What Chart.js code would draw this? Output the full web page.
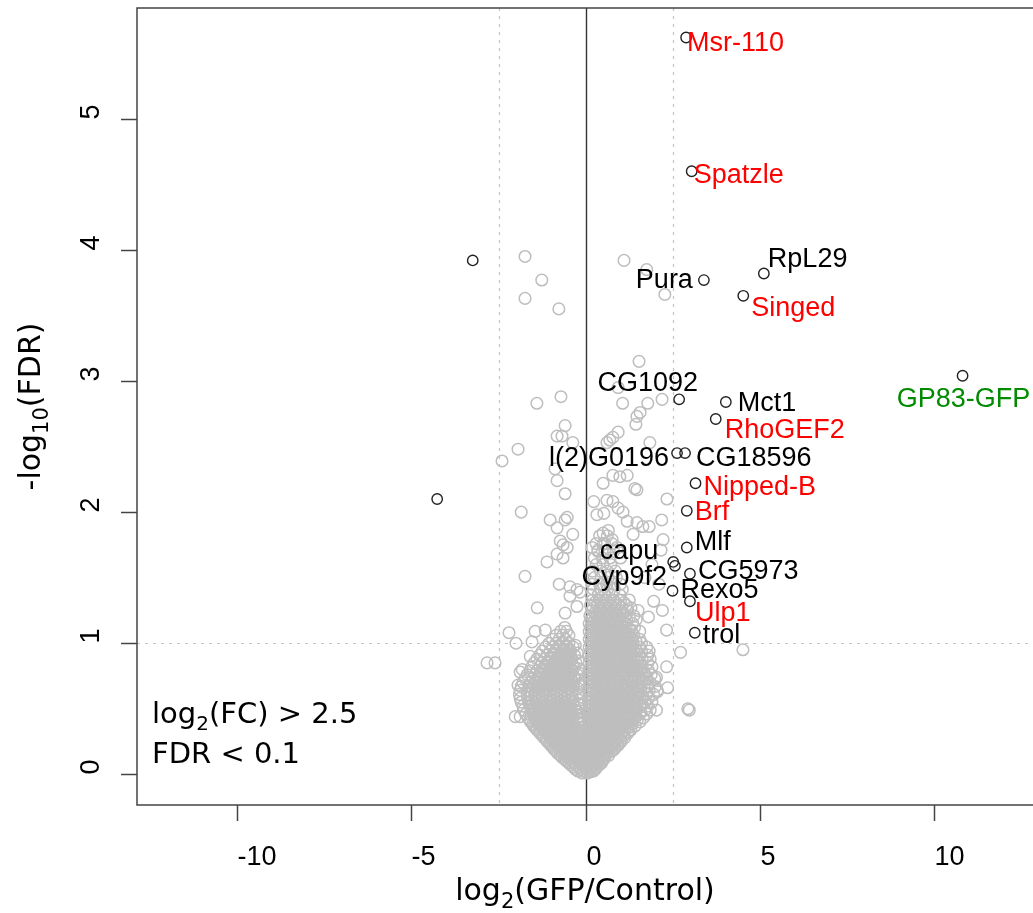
<!DOCTYPE html>
<html lang="en">
<head>
  <meta charset="UTF-8" />
  <title>Volcano plot - GFP vs Control</title>
  <script src="https://cdn.jsdelivr.net/npm/chart.js"></script>
  <style>
    html, body { margin: 0; padding: 0; background: #fff; overflow: hidden; }
    #wrap { width: 1033px; height: 913px; }
  </style>
</head>
<body>
  <div id="wrap"><canvas id="volcano"></canvas></div>

  <script>
    // labelled hits (black circles)
    const geneNames = ['Msr-110', 'Spatzle', 'RpL29', 'Pura', 'Singed', 'GP83-GFP', 'CG1092', 'Mct1',
      'RhoGEF2', 'l(2)G0196', 'CG18596', 'Nipped-B', 'Brf', 'Mlf', 'capu', 'Cyp9f2',
      'CG5973', 'Rexo5', 'Ulp1', 'trol'];
    const geneFC = [2.88, 3.04, 5.11, 3.39, 4.52, 10.81, 2.68, 4.02,
      3.73, 2.62, 2.85, 3.15, 2.90, 2.90, 2.51, 2.56,
      2.99, 2.49, 2.99, 3.13];
    const geneFDR = [5.62, 4.60, 3.82, 3.77, 3.65, 3.04, 2.86, 2.84,
      2.71, 2.45, 2.45, 2.22, 2.01, 1.73, 1.62, 1.59,
      1.53, 1.40, 1.32, 1.08];
    const geneGroup = ['red', 'red', 'black', 'black', 'red', 'green', 'black', 'black',
      'red', 'black', 'black', 'red', 'red', 'black', 'black', 'black',
      'black', 'black', 'red', 'black'];

    // significant but unlabelled
    const otherFC = [-3.24, -4.26];
    const otherFDR = [3.92, 2.10];

    // everything else (grey): scattered genes first
    const greySparse = [
      [-1.74,3.95],[-1.26,3.77],[-1.74,3.63],[-0.77,3.55],[-1.40,2.83],[-0.71,2.88],[-0.59,2.66],[-0.82,2.58],
      [-0.68,2.58],[-0.37,2.53],[-1.94,2.48],[-2.40,2.39],[-0.88,2.33],[-0.82,2.24],[-0.59,2.14],[-1.85,2.00],
      [-1.02,1.94],[-0.59,1.94],[-0.53,1.96],[-0.82,1.88],[-0.37,1.83],[-0.73,1.78],[-0.65,1.75],[-0.53,1.73],
      [-0.82,1.68],[-0.65,1.65],[-1.11,1.62],[-1.74,1.51],[-0.76,1.45],[-0.45,1.43],[-0.25,1.41],[-0.16,1.39],
      [-0.45,1.36],[-1.39,1.27],[-2.20,1.08],[-2.00,1.00],[-1.54,1.01],[-1.45,1.09],[-1.16,1.10],[-0.59,1.23],
      [-0.25,1.28],[-2.83,0.85],[-2.60,0.85],[-1.82,0.80],[-1.88,0.78],[-1.94,0.68],[-1.59,0.90],[-1.88,0.44],
      [-2.02,0.44],
      [1.10,3.92],[1.75,3.85],[2.27,3.66],[1.53,3.15],[1.06,2.83],[1.78,2.83],[2.19,2.86],[0.93,2.95],
      [1.56,2.76],[1.47,2.73],[1.44,2.67],[0.93,2.61],[0.78,2.57],[0.69,2.55],[0.61,2.53],[1.84,2.53],
      [1.41,2.18],[0.23,2.08],[0.50,2.22],[0.61,2.09],[0.78,2.08],[0.93,2.03],[1.07,2.00],[0.32,1.98],
      [0.52,1.99],[0.78,2.28],[0.98,2.27],[1.19,2.28],[1.47,2.17],[2.33,2.10],[2.18,1.94],[1.82,1.89],
      [1.64,1.89],[1.47,1.92],[1.19,1.93],[1.36,1.83],[0.65,1.86],[0.50,1.84],[0.76,1.79],[0.55,1.76],
      [0.18,1.73],[0.35,1.71],[0.90,1.73],[0.98,1.69],[2.22,1.79],[2.16,1.71],[1.90,1.60],[2.10,1.45],
      [1.70,1.50],[2.20,1.25],[1.95,1.32],[1.80,1.20],[2.32,1.10],[2.32,0.82],[2.35,0.66],[2.03,0.74],
      [2.06,0.63],[2.03,0.49],[2.72,0.93],[4.51,0.95],[2.93,0.50],[2.97,0.49]
    ];

    // the dense V near the origin, bottom to top
    const greyCore = [
      [-0.10,0.01],[0.05,0.01],[0.15,0.02],
      [-0.30,0.04],[-0.15,0.04],[0.00,0.04],[0.14,0.04],[0.28,0.04],
      [-0.42,0.07],[-0.26,0.07],[-0.10,0.07],[0.06,0.07],[0.22,0.07],[0.38,0.07],
      [-0.55,0.10],[-0.38,0.10],[-0.20,0.10],[-0.03,0.10],[0.13,0.10],[0.30,0.10],[0.47,0.10],
      [-0.68,0.13],[-0.50,0.13],[-0.33,0.13],[-0.16,0.13],[0.02,0.13],[0.20,0.13],[0.37,0.13],[0.55,0.13],
      [-0.80,0.16],[-0.62,0.16],[-0.45,0.16],[-0.27,0.16],[-0.10,0.16],[0.09,0.16],[0.27,0.16],[0.44,0.16],[0.62,0.16],
      [-0.90,0.19],[-0.72,0.19],[-0.55,0.19],[-0.38,0.19],[-0.20,0.19],[-0.04,0.19],[0.15,0.19],[0.33,0.19],[0.50,0.19],[0.68,0.19],[0.82,0.19],
      [-1.00,0.22],[-0.83,0.22],[-0.65,0.22],[-0.48,0.22],[-0.30,0.22],[-0.12,0.22],[0.07,0.22],[0.24,0.22],[0.42,0.22],[0.60,0.22],[0.77,0.22],[0.93,0.22],
      [-1.10,0.25],[-0.92,0.25],[-0.75,0.25],[-0.57,0.25],[-0.40,0.25],[-0.22,0.25],[-0.05,0.25],[0.14,0.25],[0.32,0.25],[0.50,0.25],[0.68,0.25],[0.86,0.25],[1.02,0.25],
      [-1.20,0.28],[-1.02,0.28],[-0.85,0.28],[-0.66,0.28],[-0.48,0.28],[-0.30,0.28],[-0.12,0.28],[0.05,0.28],[0.22,0.28],[0.40,0.28],[0.58,0.28],[0.76,0.28],[0.95,0.28],[1.12,0.28],
      [-1.30,0.31],[-1.10,0.31],[-0.92,0.31],[-0.74,0.31],[-0.56,0.31],[-0.38,0.31],[-0.20,0.31],[0.10,0.31],[0.28,0.31],[0.46,0.31],[0.65,0.31],[0.83,0.31],[1.02,0.31],[1.20,0.31],
      [-1.40,0.34],[-1.20,0.34],[-1.02,0.34],[-0.82,0.34],[-0.64,0.34],[-0.45,0.34],[-0.26,0.34],[0.04,0.34],[0.20,0.34],[0.38,0.34],[0.56,0.34],[0.75,0.34],[0.93,0.34],[1.12,0.34],[1.30,0.34],
      [-1.50,0.37],[-1.30,0.37],[-1.10,0.37],[-0.90,0.37],[-0.70,0.37],[-0.52,0.37],[-0.32,0.37],[0.08,0.37],[0.26,0.37],[0.45,0.37],[0.63,0.37],[0.82,0.37],[1.00,0.37],[1.20,0.37],[1.42,0.37],
      [-1.58,0.40],[-1.38,0.40],[-1.18,0.40],[-0.98,0.40],[-0.78,0.40],[-0.58,0.40],[-0.38,0.40],[-0.18,0.40],[0.12,0.40],[0.30,0.40],[0.50,0.40],[0.70,0.40],[0.90,0.40],[1.10,0.40],[1.30,0.40],[1.55,0.40],
      [-1.65,0.43],[-1.45,0.43],[-1.24,0.43],[-1.04,0.43],[-0.84,0.43],[-0.64,0.43],[-0.44,0.43],[-0.22,0.43],[0.06,0.43],[0.22,0.43],[0.40,0.43],[0.60,0.43],[0.80,0.43],[1.00,0.43],[1.20,0.43],[1.42,0.43],[1.65,0.43],
      [-1.72,0.46],[-1.50,0.46],[-1.30,0.46],[-1.10,0.46],[-0.90,0.46],[-0.68,0.46],[-0.48,0.46],[-0.26,0.46],[0.10,0.46],[0.28,0.46],[0.48,0.46],[0.68,0.46],[0.88,0.46],[1.08,0.46],[1.30,0.46],[1.55,0.46],[1.75,0.46],
      [-1.78,0.49],[-1.55,0.49],[-1.35,0.49],[-1.15,0.49],[-0.95,0.49],[-0.72,0.49],[-0.50,0.49],[-0.30,0.49],[0.08,0.49],[0.24,0.49],[0.42,0.49],[0.62,0.49],[0.82,0.49],[1.02,0.49],[1.22,0.49],[1.45,0.49],[1.70,0.49],[1.85,0.49],
      [-1.80,0.52],[-1.60,0.52],[-1.40,0.52],[-1.20,0.52],[-0.98,0.52],[-0.76,0.52],[-0.54,0.52],[-0.32,0.52],[0.12,0.52],[0.30,0.52],[0.50,0.52],[0.70,0.52],[0.90,0.52],[1.10,0.52],[1.32,0.52],[1.55,0.52],[1.78,0.52],
      [-1.85,0.55],[-1.63,0.55],[-1.43,0.55],[-1.22,0.55],[-1.00,0.55],[-0.80,0.55],[-0.58,0.55],[-0.36,0.55],[0.08,0.55],[0.26,0.55],[0.45,0.55],[0.64,0.55],[0.84,0.55],[1.04,0.55],[1.25,0.55],[1.48,0.55],[1.70,0.55],[1.90,0.55],
      [-1.88,0.58],[-1.66,0.58],[-1.45,0.58],[-1.24,0.58],[-1.02,0.58],[-0.82,0.58],[-0.60,0.58],[-0.38,0.58],[0.12,0.58],[0.32,0.58],[0.52,0.58],[0.72,0.58],[0.92,0.58],[1.12,0.58],[1.34,0.58],[1.56,0.58],[1.80,0.58],
      [-1.90,0.61],[-1.68,0.61],[-1.46,0.61],[-1.25,0.61],[-1.04,0.61],[-0.84,0.61],[-0.62,0.61],[-0.40,0.61],[-0.20,0.61],[0.10,0.61],[0.28,0.61],[0.48,0.61],[0.68,0.61],[0.88,0.61],[1.08,0.61],[1.30,0.61],[1.52,0.61],[1.75,0.61],[1.95,0.61],
      [-1.88,0.64],[-1.66,0.64],[-1.44,0.64],[-1.22,0.64],[-1.02,0.64],[-0.82,0.64],[-0.60,0.64],[-0.38,0.64],[0.14,0.64],[0.34,0.64],[0.54,0.64],[0.74,0.64],[0.94,0.64],[1.14,0.64],[1.36,0.64],[1.58,0.64],[1.82,0.64],[2.05,0.64],
      [-1.85,0.67],[-1.62,0.67],[-1.40,0.67],[-1.20,0.67],[-1.00,0.67],[-0.80,0.67],[-0.58,0.67],[-0.36,0.67],[-0.16,0.67],[0.10,0.67],[0.30,0.67],[0.50,0.67],[0.70,0.67],[0.90,0.67],[1.10,0.67],[1.32,0.67],[1.55,0.67],[1.78,0.67],[2.00,0.67],
      [-1.80,0.70],[-1.58,0.70],[-1.36,0.70],[-1.16,0.70],[-0.96,0.70],[-0.76,0.70],[-0.55,0.70],[-0.34,0.70],[0.14,0.70],[0.34,0.70],[0.54,0.70],[0.74,0.70],[0.94,0.70],[1.14,0.70],[1.36,0.70],[1.60,0.70],[1.85,0.70],
      [-1.74,0.73],[-1.52,0.73],[-1.30,0.73],[-1.10,0.73],[-0.90,0.73],[-0.70,0.73],[-0.50,0.73],[-0.30,0.73],[0.10,0.73],[0.30,0.73],[0.50,0.73],[0.70,0.73],[0.90,0.73],[1.10,0.73],[1.30,0.73],[1.52,0.73],[1.75,0.73],[1.98,0.73],
      [-1.68,0.76],[-1.46,0.76],[-1.24,0.76],[-1.04,0.76],[-0.84,0.76],[-0.64,0.76],[-0.44,0.76],[-0.24,0.76],[0.14,0.76],[0.34,0.76],[0.54,0.76],[0.74,0.76],[0.94,0.76],[1.16,0.76],[1.38,0.76],[1.62,0.76],[1.88,0.76],
      [-1.60,0.79],[-1.40,0.79],[-1.18,0.79],[-0.98,0.79],[-0.78,0.79],[-0.58,0.79],[-0.38,0.79],[0.10,0.79],[0.30,0.79],[0.50,0.79],[0.70,0.79],[0.90,0.79],[1.10,0.79],[1.32,0.79],[1.55,0.79],[1.80,0.79],
      [-1.55,0.82],[-1.32,0.82],[-1.12,0.82],[-0.92,0.82],[-0.72,0.82],[-0.52,0.82],[-0.32,0.82],[0.14,0.82],[0.34,0.82],[0.54,0.82],[0.74,0.82],[0.95,0.82],[1.16,0.82],[1.38,0.82],[1.62,0.82],[1.90,0.82],
      [-1.48,0.85],[-1.26,0.85],[-1.06,0.85],[-0.86,0.85],[-0.66,0.85],[-0.46,0.85],[-0.28,0.85],[0.10,0.85],[0.30,0.85],[0.50,0.85],[0.70,0.85],[0.90,0.85],[1.10,0.85],[1.32,0.85],[1.55,0.85],[1.78,0.85],
      [-1.40,0.88],[-1.18,0.88],[-0.98,0.88],[-0.78,0.88],[-0.58,0.88],[-0.40,0.88],[0.14,0.88],[0.34,0.88],[0.54,0.88],[0.74,0.88],[0.95,0.88],[1.15,0.88],[1.38,0.88],[1.62,0.88],[1.85,0.88],
      [-1.32,0.91],[-1.10,0.91],[-0.90,0.91],[-0.70,0.91],[-0.50,0.91],[-0.32,0.91],[0.10,0.91],[0.30,0.91],[0.50,0.91],[0.70,0.91],[0.90,0.91],[1.10,0.91],[1.32,0.91],[1.55,0.91],[1.78,0.91],
      [-1.24,0.94],[-1.02,0.94],[-0.82,0.94],[-0.62,0.94],[-0.44,0.94],[0.14,0.94],[0.34,0.94],[0.54,0.94],[0.74,0.94],[0.94,0.94],[1.15,0.94],[1.38,0.94],[1.60,0.94],[1.82,0.94],
      [-1.15,0.97],[-0.94,0.97],[-0.74,0.97],[-0.55,0.97],[-0.36,0.97],[0.10,0.97],[0.30,0.97],[0.50,0.97],[0.70,0.97],[0.90,0.97],[1.10,0.97],[1.32,0.97],[1.55,0.97],[1.75,0.97],
      [-1.05,1.00],[-0.85,1.00],[-0.66,1.00],[-0.48,1.00],[0.14,1.00],[0.34,1.00],[0.54,1.00],[0.74,1.00],[0.94,1.00],[1.14,1.00],[1.36,1.00],[1.60,1.00],
      [-0.95,1.03],[-0.76,1.03],[-0.58,1.03],[0.10,1.03],[0.30,1.03],[0.50,1.03],[0.70,1.03],[0.90,1.03],[1.10,1.03],[1.32,1.03],[1.55,1.03],
      [-0.85,1.06],[-0.66,1.06],[-0.48,1.06],[0.14,1.06],[0.34,1.06],[0.54,1.06],[0.74,1.06],[0.94,1.06],[1.14,1.06],[1.38,1.06],
      [-0.72,1.09],[-0.55,1.09],[0.10,1.09],[0.30,1.09],[0.50,1.09],[0.70,1.09],[0.90,1.09],[1.10,1.09],[1.32,1.09],[1.55,1.09],
      [-0.60,1.12],[0.14,1.12],[0.34,1.12],[0.54,1.12],[0.74,1.12],[0.94,1.12],[1.16,1.12],[1.40,1.12],
      [0.10,1.15],[0.30,1.15],[0.50,1.15],[0.70,1.15],[0.90,1.15],[1.12,1.15],[1.35,1.15],
      [0.16,1.18],[0.36,1.18],[0.56,1.18],[0.76,1.18],[0.96,1.18],[1.18,1.18],[1.45,1.18],
      [0.12,1.21],[0.32,1.21],[0.52,1.21],[0.72,1.21],[0.92,1.21],[1.14,1.21],[1.38,1.21],
      [0.18,1.25],[0.38,1.25],[0.58,1.25],[0.78,1.25],[0.98,1.25],[1.20,1.25],[1.50,1.25],
      [0.14,1.29],[0.34,1.29],[0.54,1.29],[0.74,1.29],[0.94,1.29],[1.16,1.29],
      [0.20,1.33],[0.40,1.33],[0.60,1.33],[0.80,1.33],[1.00,1.33],[1.25,1.33],
      [0.16,1.37],[0.36,1.37],[0.56,1.37],[0.76,1.37],[0.98,1.37],
      [0.22,1.41],[0.42,1.41],[0.62,1.41],[0.82,1.41],[1.05,1.41],
      [0.18,1.45],[0.40,1.45],[0.60,1.45],[0.80,1.45],[1.00,1.45],
      [0.25,1.50],[0.45,1.50],[0.65,1.50],[0.88,1.50],
      [0.20,1.55],[0.42,1.55],[0.62,1.55],[0.85,1.55],
      [0.30,1.60],[0.50,1.60],[0.72,1.60],
      [0.25,1.65],[0.48,1.65],[0.70,1.65],[1.00,1.65],
      [0.35,1.70],[0.55,1.70],[0.80,1.70],
      [0.30,1.76],[0.50,1.76],[0.75,1.76],
      [0.40,1.82],[0.62,1.82]
    ];

    // extra genes packed between the rows above
    const greyFill = [
      [-0.22,0.025],[-0.07,0.025],[0.08,0.025],[0.22,0.025],
      [-0.35,0.055],[-0.18,0.055],[-0.02,0.055],[0.12,0.055],[0.30,0.055],
      [-0.48,0.085],[-0.32,0.085],[-0.15,0.085],[0.00,0.085],[0.16,0.085],[0.32,0.085],[0.45,0.085],
      [-0.60,0.115],[-0.45,0.115],[-0.28,0.115],[-0.10,0.115],[0.06,0.115],[0.24,0.115],[0.40,0.115],[0.52,0.115],
      [-0.72,0.145],[-0.56,0.145],[-0.38,0.145],[-0.21,0.145],[-0.04,0.145],[0.14,0.145],[0.32,0.145],[0.50,0.145],[0.66,0.145],
      [-0.84,0.175],[-0.66,0.175],[-0.50,0.175],[-0.32,0.175],[-0.14,0.175],[0.04,0.175],[0.22,0.175],[0.40,0.175],[0.58,0.175],[0.74,0.175],
      [-0.95,0.205],[-0.78,0.205],[-0.60,0.205],[-0.42,0.205],[-0.26,0.205],[-0.08,0.205],[0.10,0.205],[0.28,0.205],[0.46,0.205],[0.64,0.205],[0.82,0.205],
      [-1.04,0.235],[-0.86,0.235],[-0.70,0.235],[-0.52,0.235],[-0.35,0.235],[-0.17,0.235],[0.02,0.235],[0.20,0.235],[0.38,0.235],[0.56,0.235],[0.74,0.235],[0.92,0.235],
      [-1.14,0.265],[-0.97,0.265],[-0.80,0.265],[-0.62,0.265],[-0.44,0.265],[-0.26,0.265],[-0.08,0.265],[0.10,0.265],[0.28,0.265],[0.46,0.265],[0.64,0.265],[0.82,0.265],[1.00,0.265],
      [-1.24,0.295],[-1.06,0.295],[-0.88,0.295],[-0.70,0.295],[-0.52,0.295],[-0.34,0.295],[-0.16,0.295],[0.02,0.295],[0.18,0.295],[0.36,0.295],[0.54,0.295],[0.72,0.295],[0.90,0.295],[1.08,0.295],
      [-1.34,0.325],[-1.16,0.325],[-0.98,0.325],[-0.80,0.325],[-0.60,0.325],[-0.42,0.325],[-0.24,0.325],[-0.06,0.325],[0.14,0.325],[0.32,0.325],[0.50,0.325],[0.70,0.325],[0.88,0.325],[1.06,0.325],[1.24,0.325],
      [-1.44,0.355],[-1.26,0.355],[-1.06,0.355],[-0.86,0.355],[-0.68,0.355],[-0.50,0.355],[-0.30,0.355],[-0.10,0.355],[0.12,0.355],[0.30,0.355],[0.48,0.355],[0.66,0.355],[0.86,0.355],[1.04,0.355],[1.22,0.355],
      [-1.52,0.385],[-1.34,0.385],[-1.14,0.385],[-0.94,0.385],[-0.74,0.385],[-0.56,0.385],[-0.36,0.385],[-0.16,0.385],[0.16,0.385],[0.36,0.385],[0.54,0.385],[0.74,0.385],[0.94,0.385],[1.14,0.385],[1.34,0.385],
      [-1.60,0.415],[-1.40,0.415],[-1.20,0.415],[-1.00,0.415],[-0.80,0.415],[-0.60,0.415],[-0.40,0.415],[-0.20,0.415],[0.10,0.415],[0.28,0.415],[0.46,0.415],[0.66,0.415],[0.86,0.415],[1.06,0.415],[1.26,0.415],[1.48,0.415],
      [-1.40,0.445],[-1.20,0.445],[-1.00,0.445],[-0.80,0.445],[-0.60,0.445],[-0.38,0.445],[-0.18,0.445],[0.18,0.445],[0.38,0.445],[0.58,0.445],[0.78,0.445],[0.98,0.445],[1.20,0.445],[1.40,0.445],
      [-1.45,0.475],[-1.25,0.475],[-1.05,0.475],[-0.85,0.475],[-0.62,0.475],[-0.40,0.475],[-0.20,0.475],[0.16,0.475],[0.34,0.475],[0.54,0.475],[0.74,0.475],[0.94,0.475],[1.14,0.475],[1.36,0.475],[1.58,0.475],
      [-1.50,0.505],[-1.30,0.505],[-1.10,0.505],[-0.88,0.505],[-0.66,0.505],[-0.44,0.505],[-0.20,0.505],[0.20,0.505],[0.40,0.505],[0.60,0.505],[0.80,0.505],[1.00,0.505],[1.20,0.505],[1.42,0.505],
      [-1.52,0.535],[-1.32,0.535],[-1.12,0.535],[-0.90,0.535],[-0.70,0.535],[-0.46,0.535],[-0.20,0.535],[0.18,0.535],[0.36,0.535],[0.56,0.535],[0.76,0.535],[0.96,0.535],[1.16,0.535],[1.38,0.535],[1.62,0.535],
      [-1.54,0.565],[-1.34,0.565],[-1.12,0.565],[-0.92,0.565],[-0.70,0.565],[-0.48,0.565],[-0.18,0.565],[0.20,0.565],[0.40,0.565],[0.60,0.565],[0.80,0.565],[1.00,0.565],[1.20,0.565],[1.42,0.565],
      [-1.56,0.595],[-1.36,0.595],[-1.14,0.595],[-0.94,0.595],[-0.72,0.595],[-0.50,0.595],[0.18,0.595],[0.38,0.595],[0.58,0.595],[0.78,0.595],[0.98,0.595],[1.18,0.595],[1.40,0.595],[1.64,0.595],
      [-1.56,0.625],[-1.34,0.625],[-1.14,0.625],[-0.92,0.625],[-0.72,0.625],[-0.50,0.625],[-0.20,0.625],[0.22,0.625],[0.42,0.625],[0.62,0.625],[0.82,0.625],[1.02,0.625],[1.24,0.625],[1.46,0.625],
      [-1.52,0.655],[-1.30,0.655],[-1.10,0.655],[-0.90,0.655],[-0.70,0.655],[-0.48,0.655],[-0.22,0.655],[0.20,0.655],[0.40,0.655],[0.60,0.655],[0.80,0.655],[1.00,0.655],[1.20,0.655],[1.44,0.655],[1.68,0.655],
      [-1.48,0.685],[-1.26,0.685],[-1.06,0.685],[-0.86,0.685],[-0.66,0.685],[-0.44,0.685],[-0.18,0.685],[0.24,0.685],[0.44,0.685],[0.64,0.685],[0.84,0.685],[1.04,0.685],[1.24,0.685],[1.48,0.685],
      [-1.42,0.715],[-1.20,0.715],[-1.00,0.715],[-0.80,0.715],[-0.60,0.715],[-0.40,0.715],[-0.18,0.715],[0.20,0.715],[0.40,0.715],[0.60,0.715],[0.80,0.715],[1.00,0.715],[1.20,0.715],[1.42,0.715],[1.66,0.715],
      [-1.36,0.745],[-1.14,0.745],[-0.94,0.745],[-0.74,0.745],[-0.54,0.745],[-0.34,0.745],[0.24,0.745],[0.44,0.745],[0.64,0.745],[0.84,0.745],[1.04,0.745],[1.26,0.745],[1.50,0.745],
      [-1.30,0.775],[-1.08,0.775],[-0.88,0.775],[-0.68,0.775],[-0.48,0.775],[-0.20,0.775],[0.20,0.775],[0.40,0.775],[0.60,0.775],[0.80,0.775],[1.00,0.775],[1.20,0.775],[1.44,0.775],[1.68,0.775],
      [-1.22,0.805],[-1.02,0.805],[-0.82,0.805],[-0.62,0.805],[-0.42,0.805],[-0.20,0.805],[0.24,0.805],[0.44,0.805],[0.64,0.805],[0.84,0.805],[1.05,0.805],[1.26,0.805],[1.50,0.805],
      [-1.16,0.835],[-0.96,0.835],[-0.76,0.835],[-0.56,0.835],[-0.38,0.835],[0.20,0.835],[0.40,0.835],[0.60,0.835],[0.80,0.835],[1.00,0.835],[1.20,0.835],[1.44,0.835],
      [-1.08,0.865],[-0.88,0.865],[-0.68,0.865],[-0.50,0.865],[-0.22,0.865],[0.24,0.865],[0.44,0.865],[0.64,0.865],[0.84,0.865],[1.04,0.865],[1.26,0.865],[1.50,0.865],
      [-1.00,0.895],[-0.80,0.895],[-0.60,0.895],[-0.42,0.895],[0.20,0.895],[0.40,0.895],[0.60,0.895],[0.80,0.895],[1.00,0.895],[1.20,0.895],[1.44,0.895],
      [-0.92,0.925],[-0.72,0.925],[-0.54,0.925],[-0.24,0.925],[0.24,0.925],[0.44,0.925],[0.64,0.925],[0.84,0.925],[1.04,0.925],[1.26,0.925],
      [-0.84,0.955],[-0.64,0.955],[-0.46,0.955],[0.20,0.955],[0.40,0.955],[0.60,0.955],[0.80,0.955],[1.00,0.955],[1.20,0.955],[1.44,0.955],
      [-0.76,0.985],[-0.56,0.985],[-0.30,0.985],[0.24,0.985],[0.44,0.985],[0.64,0.985],[0.84,0.985],[1.04,0.985],[1.26,0.985],
      [0.20,1.015],[0.40,1.015],[0.60,1.015],[0.80,1.015],[1.00,1.015],[1.20,1.015],[1.44,1.015],
      [0.24,1.045],[0.44,1.045],[0.64,1.045],[0.84,1.045],[1.04,1.045],[1.26,1.045],
      [0.20,1.075],[0.40,1.075],[0.60,1.075],[0.80,1.075],[1.00,1.075],[1.20,1.075],
      [0.24,1.105],[0.44,1.105],[0.64,1.105],[0.84,1.105],[1.04,1.105],[1.26,1.105],
      [0.20,1.135],[0.40,1.135],[0.60,1.135],[0.80,1.135],[1.00,1.135],
      [0.24,1.165],[0.44,1.165],[0.64,1.165],[0.84,1.165],[1.04,1.165],
      [0.20,1.195],[0.40,1.195],[0.60,1.195],[0.80,1.195],[1.00,1.195],[1.25,1.195],
      [0.26,1.23],[0.46,1.23],[0.66,1.23],[0.86,1.23],[1.06,1.23],
      [0.22,1.27],[0.42,1.27],[0.62,1.27],[0.82,1.27],[1.04,1.27],[1.30,1.27],
      [0.26,1.31],[0.46,1.31],[0.66,1.31],[0.86,1.31],[1.10,1.31]
    ];

    const xTicks = [-10, -5, 0, 5, 10];
    const yTicks = [0, 1, 2, 3, 4, 5];
    const fcCut = 2.5;
    const fdrCut = 1;

    // where each gene name sits relative to its circle: [dx, dy(baseline), align]
    const labelPlace = [
      [1, 14, 'left'], [2, 12, 'left'], [4, -6, 'left'], [-11, 8, 'right'], [8, 20, 'left'],
      [1, 31, 'center'], [19, -8, 'right'], [12, 9, 'left'], [9, 19, 'left'], [-8, 13, 'right'],
      [11, 13, 'left'], [8, 12, 'left'], [8, 9, 'left'], [8, 2, 'left'], [-15, -3, 'right'],
      [-8, 19, 'right'], [8, 5, 'left'], [8, 7, 'left'], [5, 20, 'left'], [8, 10, 'left']
    ];
    const groupColors = { red: '#ff0000', green: '#008b00', black: '#000000' };

    const titleFont = '"DejaVu Sans", Verdana, sans-serif';
    const plainFont = '"Liberation Sans", Arial, sans-serif';

    // text with subscripts, parts = [[text, isSub], ...]
    function drawRich(ctx, parts, x, y, size, align) {
      const subSize = Math.round(size * 0.7);
      const widths = parts.map(p => {
        ctx.font = (p[1] ? subSize : size) + 'px ' + titleFont;
        return ctx.measureText(p[0]).width;
      });
      const total = widths.reduce((s, w) => s + w, 0);
      let cx = align === 'center' ? x - total / 2 : x;
      ctx.textAlign = 'left';
      ctx.textBaseline = 'alphabetic';
      parts.forEach((p, i) => {
        ctx.font = (p[1] ? subSize : size) + 'px ' + titleFont;
        ctx.fillText(p[0], cx, y + (p[1] ? size * 0.25 : 0));
        cx += widths[i];
      });
    }

    function seg(ctx, x1, y1, x2, y2) {
      ctx.beginPath();
      ctx.moveTo(x1, y1);
      ctx.lineTo(x2, y2);
      ctx.stroke();
    }

    const volcanoDecor = {
      id: 'volcanoDecor',
      beforeDatasetsDraw(chart) {
        const { ctx, chartArea: a, scales: { x, y } } = chart;
        ctx.save();
        ctx.strokeStyle = '#c4c4c4';
        ctx.lineWidth = 1.2;
        ctx.setLineDash([3, 5]);
        [-fcCut, fcCut].forEach(v => {
          const px = Math.round(x.getPixelForValue(v)) + 0.5;
          seg(ctx, px, a.top, px, a.bottom);
        });
        const py = Math.round(y.getPixelForValue(fdrCut)) + 0.5;
        seg(ctx, a.left, py, a.right, py);
        ctx.setLineDash([]);
        ctx.strokeStyle = '#333';
        ctx.lineWidth = 1.4;
        const x0 = Math.round(x.getPixelForValue(0)) + 0.5;
        seg(ctx, x0, a.top, x0, a.bottom);
        ctx.restore();
      },
      afterDatasetsDraw(chart) {
        const { ctx, scales: { x, y } } = chart;
        ctx.save();
        ctx.font = '27px ' + plainFont;
        ctx.textBaseline = 'alphabetic';
        geneNames.forEach((name, i) => {
          const px = x.getPixelForValue(geneFC[i]);
          const py = y.getPixelForValue(geneFDR[i]);
          const p = labelPlace[i];
          ctx.fillStyle = groupColors[geneGroup[i]];
          ctx.textAlign = p[2];
          ctx.fillText(name, px + p[0], py + p[1]);
        });
        ctx.restore();
      },
      afterDraw(chart) {
        const { ctx, chartArea: a, scales: { x, y } } = chart;
        ctx.save();
        // frame (right side runs off the canvas)
        ctx.strokeStyle = '#444';
        ctx.lineWidth = 1.5;
        ctx.beginPath();
        ctx.moveTo(a.right + 2, a.top);
        ctx.lineTo(a.left, a.top);
        ctx.lineTo(a.left, a.bottom);
        ctx.lineTo(a.right + 2, a.bottom);
        ctx.stroke();

        // x ticks
        ctx.fillStyle = '#000';
        ctx.font = '27px ' + plainFont;
        ctx.textAlign = 'left';
        ctx.textBaseline = 'alphabetic';
        xTicks.forEach(v => {
          const px = Math.round(x.getPixelForValue(v)) + 0.5;
          seg(ctx, px, a.bottom, px, a.bottom + 16);
          ctx.fillText(String(v), px, a.bottom + 60);
        });
        // y ticks, rotated like R's default
        yTicks.forEach(v => {
          const py = Math.round(y.getPixelForValue(v)) + 0.5;
          seg(ctx, a.left, py, a.left - 16, py);
          ctx.save();
          ctx.translate(a.left - 38, py);
          ctx.rotate(-Math.PI / 2);
          ctx.fillText(String(v), 0, 0);
          ctx.restore();
        });

        // axis titles
        drawRich(ctx, [['log', false], ['2', true], ['(GFP/Control)', false]],
          (a.left + a.right) / 2, a.bottom + 95, 30, 'center');
        ctx.save();
        ctx.translate(40, (a.top + a.bottom) / 2);
        ctx.rotate(-Math.PI / 2);
        drawRich(ctx, [['-log', false], ['10', true], ['(FDR)', false]], 0, 0, 30, 'center');
        ctx.restore();

        // thresholds note
        drawRich(ctx, [['log', false], ['2', true], ['(FC) > 2.5', false]], a.left + 15, 723, 29, 'left');
        drawRich(ctx, [['FDR < 0.1', false]], a.left + 15, 763, 29, 'left');
        ctx.restore();
      }
    };

    const greyAll = greySparse.concat(greyCore, greyFill);

    const ctx = document.getElementById('volcano').getContext('2d');
    new Chart(ctx, {
      type: 'scatter',
      data: {
        datasets: [
          {
            label: 'not significant',
            data: greyAll.map(p => ({ x: p[0], y: p[1] })),
            pointStyle: 'circle',
            pointRadius: 5.8,
            backgroundColor: 'rgba(0,0,0,0)',
            borderColor: '#bebebe',
            borderWidth: 1.5
          },
          {
            label: 'significant',
            data: otherFC.map((v, i) => ({ x: v, y: otherFDR[i] }))
              .concat(geneFC.map((v, i) => ({ x: v, y: geneFDR[i] }))),
            pointStyle: 'circle',
            pointRadius: 5.2,
            backgroundColor: 'rgba(0,0,0,0)',
            borderColor: '#222',
            borderWidth: 1.4
          }
        ]
      },
      options: {
        responsive: true,
        maintainAspectRatio: false,
        animation: false,
        events: [],
        layout: { autoPadding: false, padding: { left: 137, top: 8, right: 0, bottom: 108 } },
        plugins: { legend: { display: false }, tooltip: { enabled: false } },
        scales: {
          x: { type: 'linear', display: false, min: -12.87, max: 12.83 },
          y: { type: 'linear', display: false, min: -0.234, max: 5.845 }
        }
      },
      plugins: [volcanoDecor]
    });
  </script>
</body>
</html>
